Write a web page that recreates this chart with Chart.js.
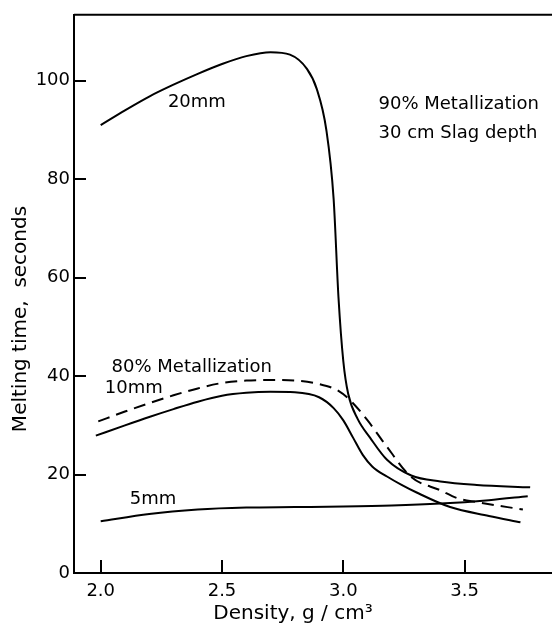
<!DOCTYPE html>
<html>
<head>
<meta charset="utf-8">
<script src="https://cdn.jsdelivr.net/npm/chart.js@4/dist/chart.umd.min.js"></script>
<style>
  body { margin: 0; background: #fff; }
  canvas { display: block; }
</style>
</head>
<body>
<canvas id="meltChart" width="552" height="630"></canvas>
<script>
// density values (g/cm3) and melting times (s)
var x20 = [2.0, 2.1, 2.2, 2.3, 2.4, 2.5, 2.6, 2.7, 2.78, 2.85, 2.89, 2.93, 2.96, 2.98, 3.0, 3.02, 3.06, 3.11, 3.18, 3.28, 3.4, 3.55, 3.77];
var y20 = [91, 94, 96.8, 99.2, 101.4, 103.4, 105, 105.8, 105.3, 102.4, 98.4, 90, 76, 56, 43, 36.4, 31.2, 27.5, 23, 19.8, 18.6, 17.9, 17.4];

var x10 = [1.98, 2.1, 2.2, 2.3, 2.4, 2.5, 2.6, 2.7, 2.8, 2.9, 2.96, 3.0, 3.04, 3.08, 3.12, 3.18, 3.24, 3.3, 3.44, 3.6, 3.73];
var y10 = [27.9, 30, 31.7, 33.3, 34.8, 36, 36.6, 36.8, 36.7, 35.7, 33.5, 31, 27.5, 24, 21.6, 19.6, 17.9, 16.4, 13.4, 11.6, 10.3];

var x80 = [1.99, 2.1, 2.2, 2.3, 2.4, 2.5, 2.6, 2.7, 2.8, 2.9, 2.98, 3.03, 3.1, 3.17, 3.28, 3.4, 3.47, 3.55, 3.74];
var y80 = [30.8, 32.8, 34.5, 36.1, 37.5, 38.6, 39.1, 39.2, 39.1, 38.4, 37, 35, 31, 26.3, 19.5, 16.8, 15.2, 14.4, 12.9];

var x5 = [2.0, 2.2, 2.4, 2.6, 2.8, 3.0, 3.2, 3.4, 3.6, 3.76];
var y5 = [10.5, 12.0, 12.9, 13.3, 13.4, 13.5, 13.7, 14.1, 14.8, 15.6];

var xTicks = [2.0, 2.5, 3.0, 3.5];
var yTicks = [0, 20, 40, 60, 80, 100];

// text labels placed in data units
var notes = [
  { text: '20mm', x: 2.277, y: 95.7 },
  { text: '5mm', x: 2.12, y: 15.0 },
  { text: '10mm', x: 2.017, y: 37.5 },
  { text: '80% Metallization', x: 2.045, y: 41.7 },
  { text: '90% Metallization', x: 3.145, y: 95.2 },
  { text: '30 cm Slag depth', x: 3.145, y: 89.3 }
];

var FONT = '"DejaVu Sans", sans-serif';

function pts(xs, ys) {
  return xs.map(function (v, i) { return { x: v, y: ys[i] }; });
}

function line(data, dash) {
  return {
    data: data,
    borderColor: '#000',
    borderWidth: 2,
    borderDash: dash || [],
    pointRadius: 0,
    fill: false,
    cubicInterpolationMode: 'monotone'
  };
}

var extras = {
  id: 'extras',
  afterDraw: function (chart) {
    var ctx = chart.ctx;
    var xs = chart.scales.x, ys = chart.scales.y;
    var area = chart.chartArea;
    ctx.save();
    ctx.strokeStyle = '#000';
    ctx.lineWidth = 2;
    // inward tick marks
    xTicks.forEach(function (v) {
      var px = Math.round(xs.getPixelForValue(v));
      ctx.beginPath();
      ctx.moveTo(px, area.bottom);
      ctx.lineTo(px, area.bottom - 13);
      ctx.stroke();
    });
    yTicks.forEach(function (v) {
      var py = Math.round(ys.getPixelForValue(v));
      ctx.beginPath();
      ctx.moveTo(area.left, py);
      ctx.lineTo(area.left + 12, py);
      ctx.stroke();
    });
    // top frame line
    ctx.beginPath();
    ctx.moveTo(area.left, area.top);
    ctx.lineTo(area.right, area.top);
    ctx.stroke();

    ctx.fillStyle = '#000';
    ctx.font = '18px ' + FONT;
    ctx.textBaseline = 'middle';
    ctx.textAlign = 'left';
    notes.forEach(function (n) {
      ctx.fillText(n.text, xs.getPixelForValue(n.x), ys.getPixelForValue(n.y));
    });

    // axis titles
    ctx.font = '20px ' + FONT;
    ctx.textAlign = 'center';
    ctx.fillText('Density, g / cm\u00B3', 293, 614);
    ctx.translate(21, 319);
    ctx.rotate(-Math.PI / 2);
    ctx.fillText('Melting time,  seconds', 0, 0);
    ctx.restore();
  }
};

new Chart(document.getElementById('meltChart'), {
  type: 'line',
  data: {
    datasets: [
      line(pts(x20, y20)),
      line(pts(x10, y10)),
      line(pts(x80, y80), [12, 7]),
      line(pts(x5, y5))
    ]
  },
  options: {
    responsive: false,
    animation: false,
    layout: { padding: { top: 13, right: 0, left: 0, bottom: 0 } },
    plugins: { legend: { display: false }, tooltip: { enabled: false } },
    scales: {
      x: {
        type: 'linear',
        min: 1.89,
        max: 3.86,
        afterBuildTicks: function (s) { s.ticks = xTicks.map(function (v) { return { value: v }; }); },
        afterFit: function (s) { s.height = 57; },
        grid: { drawOnChartArea: false, drawTicks: false },
        border: { display: true, color: '#000', width: 2 },
        ticks: {
          color: '#000',
          padding: 8,
          font: { family: FONT, size: 18 },
          callback: function (v) { return v.toFixed(1); }
        }
      },
      y: {
        type: 'linear',
        min: 0,
        max: 113.4,
        afterBuildTicks: function (s) { s.ticks = yTicks.map(function (v) { return { value: v }; }); },
        afterFit: function (s) { s.width = 74; },
        grid: { drawOnChartArea: false, drawTicks: false },
        border: { display: true, color: '#000', width: 2 },
        ticks: {
          color: '#000',
          padding: 4,
          font: { family: FONT, size: 18 }
        }
      }
    }
  },
  plugins: [extras]
});
</script>
</body>
</html>
